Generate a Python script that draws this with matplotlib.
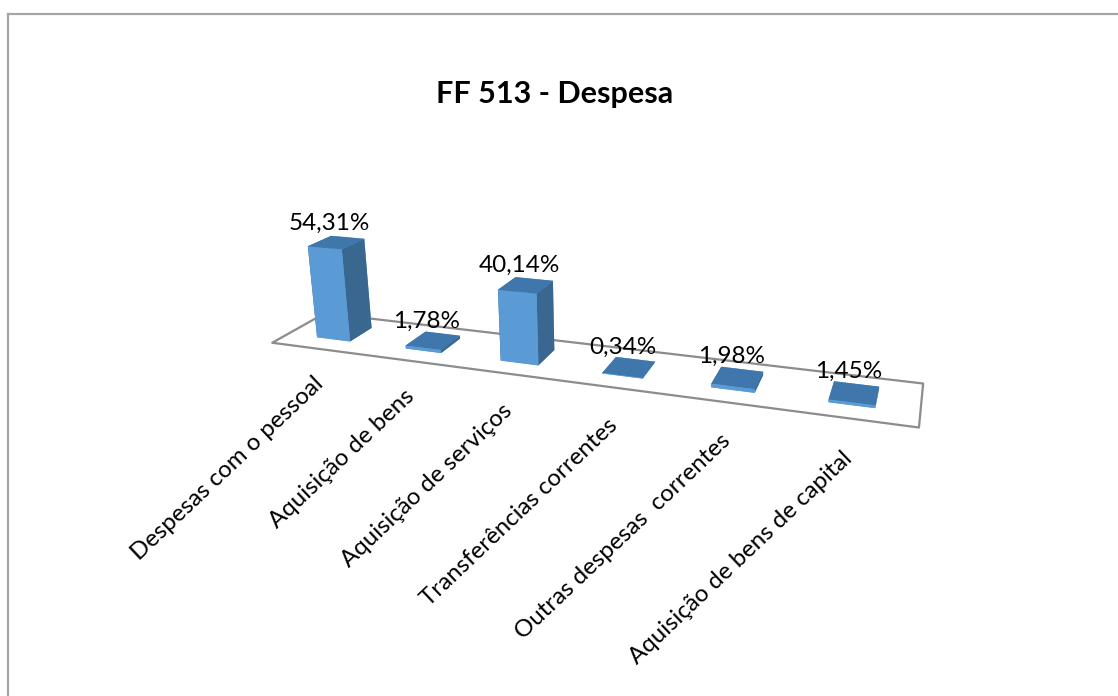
import matplotlib
matplotlib.use('Agg')
import matplotlib.pyplot as plt
from matplotlib.lines import Line2D
from mpl_toolkits.mplot3d import proj3d
from mpl_toolkits.mplot3d.art3d import Poly3DCollection

categories = ['Despesas com o pessoal', 'Aquisição de bens', 'Aquisição de serviços',
              'Transferências correntes', 'Outras despesas  correntes',
              'Aquisição de bens de capital']
values = [54.31, 1.78, 40.14, 0.34, 1.98, 1.45]
value_labels = ['54,31%', '1,78%', '40,14%', '0,34%', '1,98%', '1,45%']
title = 'FF 513 - Despesa'

FRONT = '#5B9BD5'
TOP = '#3F76AB'
SIDE = '#3A6790'
FLOOR = '#8C8C8C'
BORDER = '#A6A6A6'

W, H = 1118, 696
S = 696
CX, CY = 567.5, 318
BAR_W = 0.38
BAR_D = 0.44
PAD = 0.04

plt.rcParams['font.family'] = ['Lato', 'DejaVu Sans']


def main():
    fig = plt.figure(figsize=(W / 100, H / 100), dpi=100)
    ax = fig.add_axes([(CX - S / 2) / W, (H - CY - S / 2) / H, S / W, S / H],
                      projection='3d', computed_zorder=False)
    ax.patch.set_alpha(0)
    n = len(categories)
    ax.set_xlim(0, n, view_margin=0)
    ax.set_ylim(0, 1, view_margin=0)
    ax.set_zlim(0, 60, view_margin=0)
    ax.set_xticks([])
    ax.set_yticks([])
    ax.set_zticks([])
    ax.set_box_aspect((6, 0.93, 1.04), zoom=0.94)
    ax.view_init(elev=19, azim=-70, roll=0.7)
    ax.set_proj_type('persp', focal_length=0.27)
    ax.set_axis_off()

    floor = Poly3DCollection([[(-PAD, 0, 0), (n + PAD, 0, 0), (n + PAD, 1, 0), (-PAD, 1, 0)]],
                             facecolor='white', edgecolor=FLOOR, linewidth=1.6, zorder=1)
    ax.add_collection3d(floor)
    floor.set_clip_on(False)

    # face order in bar3d: bottom, top, front, back, left, right
    faces = [FRONT, TOP, FRONT, FRONT, SIDE, SIDE] * n
    xs = [i + 0.5 - BAR_W / 2 for i in range(n)]
    ys = [0.5 - BAR_D / 2] * n
    bars = ax.bar3d(xs, ys, [0] * n, BAR_W, BAR_D, values, color=faces, shade=False,
                    zorder=2)
    bars.set_clip_on(False)

    proj = ax.get_proj()
    for i in range(n):
        px, py, _ = proj3d.proj_transform(i + 0.44, 0.5, values[i] + 11, proj)
        ax.text2D(px, py, value_labels[i], transform=ax.transData, ha='center', va='center',
                  fontsize=17.5, color='black', zorder=3)
        px, py, _ = proj3d.proj_transform(i + 0.47, -0.1, -13, proj)
        ax.text2D(px, py, categories[i], transform=ax.transData, ha='right', va='top',
                  rotation=43.5, rotation_mode='anchor', fontsize=17.3, color='black',
                  zorder=3)

    fig.text(555 / W, 1 - 94 / H, title, ha='center', va='center', fontsize=22,
             fontweight='bold', color='black')
    fig.add_artist(Line2D([8 / W, 8 / W], [0, 1 - 14 / H], color=BORDER, lw=1.6))
    fig.add_artist(Line2D([8 / W, 1], [1 - 14 / H, 1 - 14 / H], color=BORDER, lw=1.6))
    fig.savefig('out.png', dpi=100)


if __name__ == '__main__':
    main()
